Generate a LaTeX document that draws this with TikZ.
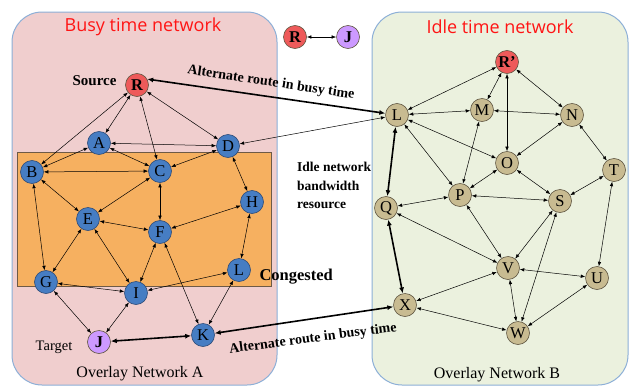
\documentclass[tikz,border=0pt]{standalone}
\usepackage{fontspec}
\setmainfont{Liberation Serif}
\newfontfamily\titlefont{Open Sans}
\usetikzlibrary{arrows.meta}
\definecolor{pinkbg}{RGB}{240,206,206}
\definecolor{greenbg}{RGB}{235,241,222}
\definecolor{panelborder}{RGB}{140,175,215}
\definecolor{congest}{RGB}{246,176,96}
\definecolor{congestborder}{RGB}{110,90,70}
\definecolor{bluenode}{RGB}{70,125,195}
\definecolor{bluedark}{RGB}{45,75,120}
\definecolor{tannode}{RGB}{200,187,145}
\definecolor{tandark}{RGB}{95,85,65}
\definecolor{rednode}{RGB}{238,90,90}
\definecolor{purplenode}{RGB}{204,153,255}
\definecolor{titlered}{RGB}{255,20,20}
\tikzset{
  nd/.style={circle,minimum size=23pt,inner sep=0pt,font=\fontsize{16.5}{16.5}\selectfont},
  bn/.style={nd,fill=bluenode,draw=bluedark,line width=0.6pt},
  tn/.style={nd,fill=tannode,draw=tandark,line width=0.6pt},
  rn/.style={nd,fill=rednode,draw=tandark,line width=0.6pt,font=\fontsize{16.5}{16.5}\selectfont\bfseries},
  pn/.style={nd,fill=purplenode,draw=tandark,line width=0.6pt,font=\fontsize{16.5}{16.5}\selectfont\bfseries},
  e/.style={line width=0.5pt,{Latex[length=4.5pt,width=3.5pt]}-{Latex[length=4.5pt,width=3.5pt]}},
  te/.style={line width=1.6pt,{Latex[length=6pt,width=5pt]}-{Latex[length=6pt,width=5pt]}},
  panel/.style={draw=panelborder,line width=1pt,rounded corners=30pt},
  title/.style={font=\titlefont\fontsize{18}{18}\selectfont,text=titlered},
  lbl/.style={font=\fontsize{14}{14}\selectfont\bfseries},
  captxt/.style={font=\fontsize{16}{16}\selectfont}
}
\begin{document}
\begin{tikzpicture}[x=1pt,y=-1pt]
\useasboundingbox (0,0) rectangle (631,388);
% panels
\draw[panel,fill=pinkbg] (12,12) rectangle (277,385);
\draw[panel,fill=greenbg] (372,12) rectangle (628,385);
\draw[fill=congest,draw=congestborder,line width=0.6pt] (17,152) rectangle (271,286);
\node[title] (t1) at (143,27) {Busy time network};
\node[title] (t2) at (500,27) {Idle time network};
% left nodes
\node[rn] (R) at (137,85) {R};
\node[bn] (A) at (99,143) {A};
\node[bn] (D) at (228,146) {D};
\node[bn] (B) at (32,172) {B};
\node[bn] (C) at (160,171) {C};
\node[bn] (E) at (88,219) {E};
\node[bn] (F) at (160,232) {F};
\node[bn] (H) at (252,202) {H};
\node[bn] (La) at (239,270) {L};
\node[bn] (G) at (46,282) {G};
\node[bn] (I) at (136,293) {I};
\node[pn] (J) at (99,342) {J};
\node[bn] (K) at (203,335) {K};
% legend
\node[rn] (lR) at (295,37) {R};
\node[pn] (lJ) at (348,37) {J};
% right nodes
\node[rn] (Rp) at (507,62) {R’};
\node[tn] (Lr) at (397,115) {L};
\node[tn] (M) at (482,110) {M};
\node[tn] (N) at (572,115) {N};
\node[tn] (O) at (507,163) {O};
\node[tn] (T) at (614,170) {T};
\node[tn] (P) at (460,195) {P};
\node[tn] (S) at (560,201) {S};
\node[tn] (Q) at (386,208) {Q};
\node[tn] (V) at (508,268) {V};
\node[tn] (U) at (597,278) {U};
\node[tn] (X) at (405,305) {X};
\node[tn] (W) at (518,333) {W};
% texts
\node[lbl,anchor=east,font=\fontsize{15}{15}\selectfont\bfseries] (src) at (120,81) {Source};
\node[font=\fontsize{14.5}{14.5}\selectfont] (tgt) at (54,347) {Target};
\node[captxt] (ova) at (140,374) {Overlay Network A};
\node[captxt] (ovb) at (497,375) {Overlay Network B};
\node[lbl,anchor=west,font=\fontsize{16.5}{16.5}\selectfont\bfseries] (cong) at (256,277) {Congested};
\node[anchor=north west,align=left,inner sep=0pt,font=\fontsize{13.5}{18.5}\selectfont\bfseries] (idle) at (297,162) {Idle network\\bandwidth\\resource};
\node[lbl,rotate=-8.5] (alt1) at (271,83) {Alternate route in busy time};
\node[lbl,rotate=7.5] (alt2) at (313,339) {Alternate route in busy time};
% left edges
\draw[e] (R) -- (A);
\draw[e] (R) -- (B);
\draw[e] (R) -- (C);
\draw[e] (R) -- (D);
\draw[e] (A) -- (B);
\draw[e] (A) -- (C);
\draw[e] (A) -- (D);
\draw[e] (B) -- (C);
\draw[e] (B) -- (E);
\draw[e] (B) -- (G);
\draw[e] (C) -- (D);
\draw[e] (C) -- (E);
\draw[e] (C) -- (F);
\draw[e] (D) -- (H);
\draw[e] (E) -- (F);
\draw[e] (E) -- (G);
\draw[e] (E) -- (I);
\draw[e] (F) -- (H);
\draw[e] (F) -- (I);
\draw[e] (F) -- (K);
\draw[e] (H) -- (La);
\draw[e] (G) -- (I);
\draw[e] (G) -- (J);
\draw[e] (I) -- (La);
\draw[e] (I) -- (J);
\draw[e] (La) -- (K);
\draw[e] (D) -- (Lr);
\draw[e] (lR) -- (lJ);
% thick routes
\draw[te] (R.30) -- (Lr);
\draw[te] (J) -- (K);
\draw[te] (K) -- (X);
\draw[te] (Lr) -- (Q);
\draw[te] (Q) -- (X);
% right edges
\draw[e] (Rp) -- (Lr);
\draw[e] (Rp) -- (M);
\draw[e] (Rp) -- (O);
\draw[e] (Rp) -- (N);
\draw[e] (Lr) -- (M);
\draw[e] (Lr) -- (O);
\draw[e] (Lr) -- (P);
\draw[e] (M) -- (N);
\draw[e] (M) -- (P);
\draw[e] (N) -- (O);
\draw[e] (N) -- (T);
\draw[e] (O) -- (P);
\draw[e] (O) -- (S);
\draw[e] (P) -- (Q);
\draw[e] (P) -- (S);
\draw[e] (P) -- (V);
\draw[e] (S) -- (T);
\draw[e] (S) -- (V);
\draw[e] (S) -- (W);
\draw[e] (Q) -- (V);
\draw[e] (T) -- (U);
\draw[e] (V) -- (U);
\draw[e] (V) -- (X);
\draw[e] (V) -- (W);
\draw[e] (X) -- (W);
\draw[e] (U) -- (W);
\end{tikzpicture}
\end{document}
